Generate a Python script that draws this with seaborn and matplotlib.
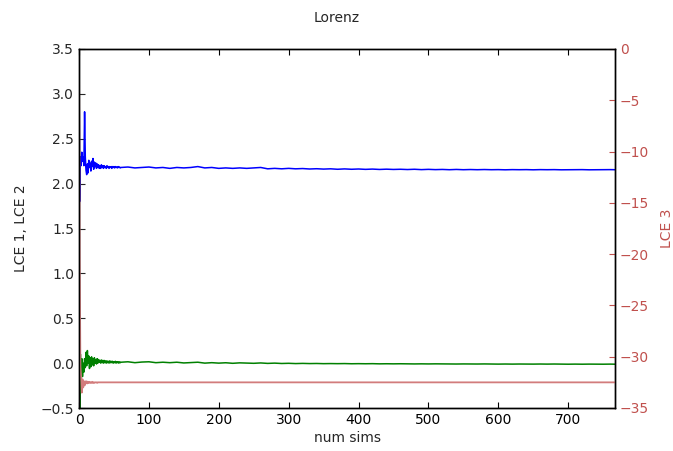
import matplotlib
matplotlib.use("Agg")
import matplotlib.pyplot as plt
import seaborn as sns
import pandas as pd

# ---- data ----
sims = list(range(0, 61)) + list(range(70, 770, 10)) + [767]

lce1 = [3.40, 1.80, 2.30, 2.20, 2.35, 2.25, 2.30, 2.20, 2.80, 2.30,
        2.15, 2.10, 2.22, 2.12, 2.26, 2.18, 2.23, 2.14, 2.25, 2.19,
        2.28, 2.16, 2.24, 2.19, 2.23, 2.17, 2.22, 2.18, 2.21, 2.17,
        2.20, 2.17, 2.21, 2.18, 2.20, 2.17, 2.20, 2.18, 2.19, 2.17,
        2.20, 2.18, 2.19, 2.17, 2.19, 2.18, 2.19, 2.17, 2.19, 2.18,
        2.19, 2.175, 2.19, 2.18, 2.185, 2.175, 2.19, 2.18, 2.185, 2.175,
        2.18,
        2.185, 2.175, 2.18, 2.185, 2.175, 2.18, 2.17, 2.18, 2.175, 2.18,
        2.19, 2.175, 2.18, 2.17, 2.175, 2.17, 2.175, 2.17, 2.175, 2.18,
        2.165, 2.17, 2.165, 2.17, 2.165, 2.168, 2.163, 2.166, 2.162, 2.165,
        2.16, 2.164, 2.16, 2.163, 2.159, 2.162, 2.158, 2.161, 2.158, 2.16,
        2.157, 2.16, 2.156, 2.159, 2.156, 2.158, 2.155, 2.158, 2.155, 2.157,
        2.155, 2.157, 2.155, 2.156, 2.154, 2.156, 2.155, 2.156, 2.154, 2.156,
        2.155, 2.156, 2.154, 2.155, 2.155, 2.156, 2.154, 2.155, 2.155, 2.156,
        2.155]

lce2 = [0.30, -0.50, 0.10, -0.20, 0.05, -0.15, 0.00, -0.10, 0.05, -0.05,
        0.12, -0.03, 0.14, 0.00, 0.08, -0.06, 0.06, -0.04, 0.07, -0.02,
        0.05, -0.03, 0.06, 0.00, 0.04, -0.01, 0.05, 0.00, 0.04, 0.01,
        0.03, 0.00, 0.035, 0.005, 0.03, 0.00, 0.03, 0.005, 0.025, 0.00,
        0.025, 0.005, 0.02, 0.00, 0.025, 0.005, 0.02, 0.005, 0.02, 0.00,
        0.015, 0.005, 0.02, 0.00, 0.015, 0.005, 0.015, 0.00, 0.015, 0.005,
        0.01,
        0.015, 0.005, 0.012, 0.015, 0.005, 0.01, 0.005, 0.01, 0.002, 0.006,
        0.01, 0.0, 0.005, 0.0, 0.004, -0.002, 0.003, 0.0, -0.002, 0.002,
        -0.003, 0.0, -0.004, -0.002, -0.005, -0.003, -0.005, -0.004, -0.006, -0.005,
        -0.006, -0.005, -0.007, -0.006, -0.007, -0.006, -0.008, -0.007, -0.008, -0.007,
        -0.008, -0.009, -0.008, -0.009, -0.008, -0.009, -0.009, -0.01, -0.009, -0.01,
        -0.01, -0.009, -0.01, -0.011, -0.01, -0.011, -0.01, -0.011, -0.011, -0.01,
        -0.011, -0.01, -0.011, -0.012, -0.011, -0.012, -0.011, -0.012, -0.012, -0.011,
        -0.012]

lce3 = [0.0, -20.0, -31.0, -32.0, -33.5, -32.2, -33.0, -32.4, -32.8, -32.4,
        -32.6, -32.4, -32.6, -32.45, -32.55, -32.45, -32.55, -32.5, -32.55, -32.45,
        -32.55, -32.5, -32.55, -32.5, -32.5, -32.5, -32.55, -32.5, -32.5, -32.5,
        -32.5, -32.5, -32.5, -32.5, -32.5, -32.5, -32.5, -32.5, -32.5, -32.5,
        -32.5, -32.5, -32.5, -32.5, -32.5, -32.5, -32.5, -32.5, -32.5, -32.5,
        -32.5, -32.5, -32.5, -32.5, -32.5, -32.5, -32.5, -32.5, -32.5, -32.5,
        -32.5] + [-32.5] * 71

df = pd.DataFrame({"sims": sims, "lce1": lce1, "lce2": lce2, "lce3": lce3})

left_ticks = [-0.5, 0.0, 0.5, 1.0, 1.5, 2.0, 2.5, 3.0, 3.5]
right_ticks = [-35, -30, -25, -20, -15, -10, -5, 0]
x_ticks = [0, 100, 200, 300, 400, 500, 600, 700]

RED_TEXT = "#c0504d"
RED_LINE = "#d27c7c"

sns.set_style("white")
plt.rcParams.update({
    "xtick.direction": "in", "ytick.direction": "in",
    "xtick.major.size": 4, "ytick.major.size": 4,
    "axes.edgecolor": "black", "axes.linewidth": 1.0,
    "font.size": 10,
})
plt.rcParams["font.family"] = ["DejaVu Sans"]

fig = plt.figure(figsize=(6.73, 4.51), dpi=100)
ax = fig.add_axes([79 / 673, 1 - 408 / 451, (615 - 79) / 673, (408 - 49) / 451])
ax2 = ax.twinx()

sns.lineplot(data=df, x="sims", y="lce1", ax=ax, color="#0000ff", lw=1.1, estimator=None)
sns.lineplot(data=df, x="sims", y="lce2", ax=ax, color="#008000", lw=1.1, estimator=None)
sns.lineplot(data=df, x="sims", y="lce3", ax=ax2, color=RED_LINE, lw=1.3, estimator=None)

ax.set_xlim(0, 767)
ax.set_ylim(-0.5, 3.5)
ax.set_yticks(left_ticks)
ax.set_xticks(x_ticks)
ax.set_xlabel("num sims", labelpad=3)
ax.set_ylabel("LCE 1, LCE 2", labelpad=9)
ax.tick_params(axis="x", top=True, bottom=True, direction="in", colors="black")
ax.tick_params(axis="y", left=True, right=False, direction="in")

ax2.set_ylim(-35, 0)
ax2.set_yticks(right_ticks)
ax2.set_ylabel("LCE 3", color=RED_TEXT, labelpad=8)
ax2.tick_params(axis="y", right=True, direction="in", colors=RED_TEXT)
for s in ax2.spines.values():
    s.set_color("black")

fig.suptitle("Lorenz", y=1 - 11 / 451, fontsize=10)
fig.savefig("out.png", dpi=100)
